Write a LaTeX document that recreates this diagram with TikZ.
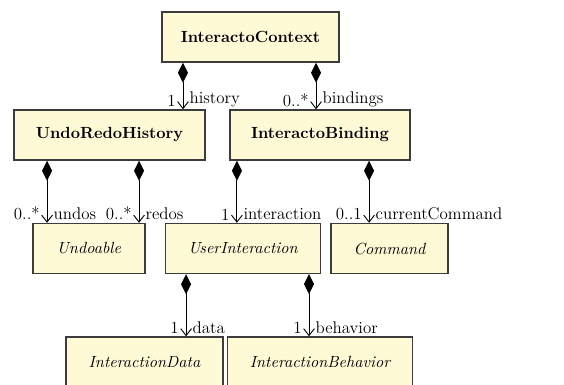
\documentclass[tikz,border=0pt]{standalone}
\usepackage{xcolor}
\usepackage{tikz}
\usetikzlibrary{arrows.meta}

\definecolor{clsfill}{RGB}{255,250,214}
\definecolor{clsline}{RGB}{60,60,60}

\tikzset{
	cls/.style={draw=clsline, line width=0.9pt, fill=clsfill, minimum height=32.5pt, inner sep=2pt},
	clsbold/.style={cls, font=\fontsize{10.5}{12}\selectfont\bfseries},
	clsital/.style={cls, font=\fontsize{10.5}{12}\selectfont\itshape},
	comp/.style={line width=0.6pt, {Diamond[length=13pt,width=6.5pt]}-{Straight Barb[length=4.5pt,width=7pt]}},
	mult/.style={anchor=south east, inner sep=1pt, xshift=-3.5pt, yshift=0.5pt, font=\fontsize{11}{13}\selectfont},
	role/.style={anchor=south west, inner sep=1pt, xshift=3pt, yshift=0.5pt, font=\fontsize{11}{13}\selectfont}
}

\begin{document}
\begin{tikzpicture}[x=0.65pt, y=-0.65pt]

\useasboundingbox (0,0) rectangle (564,385);

% classes
\node[clsbold, minimum width=115pt] (ctx)   at (250.5, 37)  {InteractoContext};
\node[clsbold, minimum width=124pt] (hist)  at (109.5,135)  {UndoRedoHistory};
\node[clsbold, minimum width=117pt] (bind)  at (320  ,135)  {InteractoBinding};

\node[clsital, minimum width=73pt]  (undo)  at ( 89  ,248.5) {Undoable};
\node[clsital, minimum width=101pt] (uint)  at (243  ,248.5) {UserInteraction};
\node[clsital, minimum width=76pt]  (cmd)   at (389.5,248.5) {Command};

\node[clsital, minimum width=102pt] (data)  at (144.5,362)  {InteractionData};
\node[clsital, minimum width=120pt] (behav) at (320  ,362)  {InteractionBehavior};

% compositions
\draw[comp] ([xshift=-43.9pt]ctx.south) -- ([xshift=-43.9pt]ctx.south |- hist.north)
	node[mult] {1} node[role] {history};
\draw[comp] ([xshift=42.6pt]ctx.south) -- ([xshift=42.6pt]ctx.south |- bind.north)
	node[mult] {0..*} node[role] {bindings};

\draw[comp] ([xshift=-40.6pt]hist.south) -- ([xshift=-40.6pt]hist.south |- undo.north)
	node[mult] {0..*} node[role] {undos};
\draw[comp] ([xshift=19.2pt]hist.south) -- ([xshift=19.2pt]hist.south |- undo.north)
	node[mult] {0..*} node[role] {redos};

\draw[comp] ([xshift=-54pt]bind.south) -- ([xshift=-54pt]bind.south |- uint.north)
	node[mult] {1} node[role] {interaction};
\draw[comp] ([xshift=31.9pt]bind.south) -- ([xshift=31.9pt]bind.south |- cmd.north)
	node[mult] {0..1} node[role] {currentCommand};

\draw[comp] ([xshift=-37pt]uint.south) -- ([xshift=-37pt]uint.south |- data.north)
	node[mult] {1} node[role] {data};
\draw[comp] ([xshift=42.9pt]uint.south) -- ([xshift=42.9pt]uint.south |- behav.north)
	node[mult] {1} node[role] {behavior};

\end{tikzpicture}
\end{document}
